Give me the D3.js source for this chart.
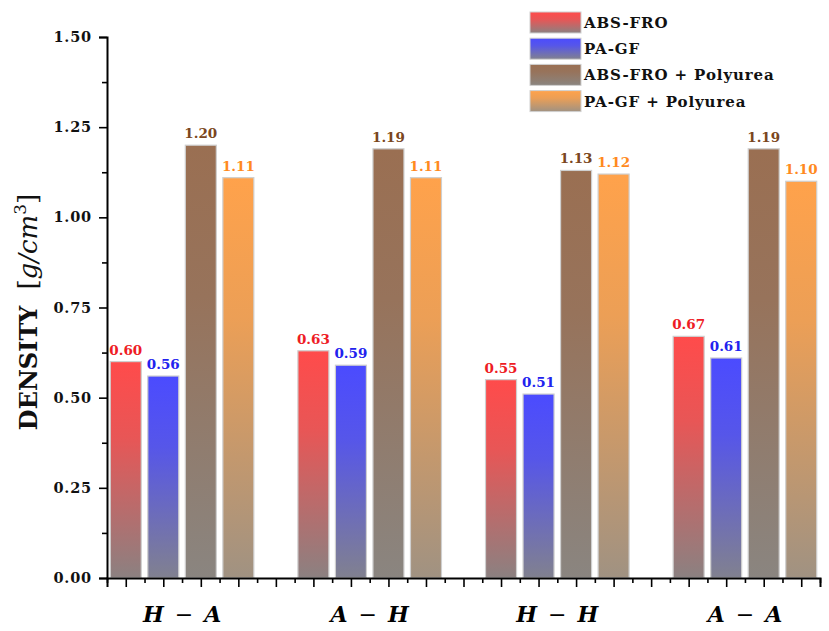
<!DOCTYPE html>
<html>
<head>
<meta charset="utf-8">
<script src="https://cdn.jsdelivr.net/npm/d3@7"></script>
<style>
  body { margin: 0; background: #fff; }
  text { font-family: "DejaVu Serif", "Liberation Serif", serif; }
</style>
</head>
<body>
<div id="chart"></div>
<script>
var categories = [['H', 'A'], ['A', 'H'], ['H', 'H'], ['A', 'A']];
var seriesNames = ['ABS-FRO', 'PA-GF', 'ABS-FRO + Polyurea', 'PA-GF + Polyurea'];
var absFro = [0.60, 0.63, 0.55, 0.67];
var paGf = [0.56, 0.59, 0.51, 0.61];
var absFroPoly = [1.20, 1.19, 1.13, 1.19];
var paGfPoly = [1.11, 1.11, 1.12, 1.10];
var yTicks = [0, 0.25, 0.5, 0.75, 1.0, 1.25, 1.5];

var series = [absFro, paGf, absFroPoly, paGfPoly];
var topColors = ['#ff4b4b', '#4b4bff', '#9a6f52', '#ffa24b'];
var bottomColors = ['#8b8181', '#81818f', '#8a8580', '#a09282'];
var labelColors = ['#ee1c25', '#2222ee', '#7a4620', '#ff8a1e'];

var w = 829, h = 631;
var svg = d3.select('#chart').append('svg')
	.attr('width', w)
	.attr('height', h);

var defs = svg.append('defs');
topColors.forEach(function (c, i) {
	var g = defs.append('linearGradient')
		.attr('id', 'grad' + i)
		.attr('x1', 0).attr('y1', 0).attr('x2', 0).attr('y2', 1);
	g.append('stop').attr('offset', '0%').attr('stop-color', c);
	g.append('stop').attr('offset', '35%').attr('stop-color', d3.interpolateRgb(c, bottomColors[i])(0.2));
	g.append('stop').attr('offset', '100%').attr('stop-color', bottomColors[i]);
});

var x0 = 107, x1 = 820, yTop = 37, yBot = 578;
var xScale = d3.scaleLinear().domain([-0.5, 18.5]).range([x0, x1]);
var yScale = d3.scaleLinear().domain([0, 1.5]).range([yBot, yTop]);
var barW = 31;

// bars
var bars = [];
categories.forEach(function (c, gi) {
	series.forEach(function (s, si) {
		bars.push({ slot: gi * 5 + si, v: s[gi], si: si });
	});
});

svg.selectAll('rect.bar')
	.data(bars)
	.enter()
	.append('rect')
	.attr('class', 'bar')
	.attr('x', function (d) { return xScale(d.slot) - barW / 2; })
	.attr('y', function (d) { return yScale(d.v); })
	.attr('width', barW)
	.attr('height', function (d) { return yScale(0) - yScale(d.v); })
	.attr('fill', function (d) { return 'url(#grad' + d.si + ')'; })
	.attr('stroke', '#cfcfcf')
	.attr('stroke-width', 1.2);

svg.selectAll('text.val')
	.data(bars)
	.enter()
	.append('text')
	.attr('class', 'val')
	.attr('x', function (d) { return xScale(d.slot); })
	.attr('y', function (d) { return yScale(d.v) - 7; })
	.attr('text-anchor', 'middle')
	.attr('font-size', '13.5px')
	.attr('font-weight', 'bold')
	.attr('fill', function (d) { return labelColors[d.si]; })
	.text(function (d) { return d.v.toFixed(2); });

// y axis
var yAxis = d3.axisLeft(yScale).tickValues(yTicks).tickSize(8).tickPadding(7)
	.tickFormat(d3.format('.2f'));
var yMinor = d3.axisLeft(yScale).tickValues([0.125, 0.375, 0.625, 0.875, 1.125, 1.375])
	.tickSize(5).tickFormat('');
var gy = svg.append('g').attr('transform', 'translate(' + x0 + ',0)').call(yAxis);
svg.append('g').attr('transform', 'translate(' + x0 + ',0)').call(yMinor)
	.select('.domain').remove();
gy.selectAll('text').attr('font-size', '14.5px').attr('font-weight', 'bold')
	.attr('font-family', '"DejaVu Serif", serif').attr('letter-spacing', '0.8px')
	.attr('fill', '#111');

// x axis
var majors = d3.range(0, 19);
var minors = d3.range(-0.5, 19, 1);
var xAxis = d3.axisBottom(xScale).tickValues(majors).tickSize(9).tickFormat('');
var xMinor = d3.axisBottom(xScale).tickValues(minors).tickSize(5).tickFormat('');
svg.append('g').attr('transform', 'translate(0,' + yBot + ')').call(xAxis);
svg.append('g').attr('transform', 'translate(0,' + yBot + ')').call(xMinor)
	.select('.domain').remove();

svg.selectAll('.domain').attr('stroke', '#000').attr('stroke-width', 2);
svg.selectAll('.tick line').attr('stroke', '#000').attr('stroke-width', 1.6);

// category labels
var cat = svg.selectAll('text.cat')
	.data(categories)
	.enter()
	.append('text')
	.attr('class', 'cat')
	.attr('x', function (d, i) { return xScale(i * 5 + 1.5); })
	.attr('y', 622)
	.attr('text-anchor', 'middle')
	.attr('font-size', '22px')
	.attr('font-weight', 'bold');
cat.append('tspan').attr('font-style', 'italic').text(function (d) { return d[0]; });
cat.append('tspan').attr('font-weight', 'normal').text('\u2002\u2212\u2002');
cat.append('tspan').attr('font-style', 'italic').text(function (d) { return d[1]; });

// y title
var yt = svg.append('text')
	.attr('transform', 'translate(37,312) rotate(-90)')
	.attr('text-anchor', 'middle')
	.attr('font-size', '24px')
	.attr('fill', '#111');
yt.append('tspan').attr('font-weight', 'bold').text('DENSITY');
yt.append('tspan').attr('dx', 16).attr('font-size', '26px').text('[');
yt.append('tspan').attr('font-size', '26px').attr('font-style', 'italic').text('g/cm');
yt.append('tspan').attr('font-size', '17px').attr('dy', -11).text('3');
yt.append('tspan').attr('font-size', '26px').attr('dy', 11).text(']');

// legend
var legend = svg.selectAll('g.leg')
	.data(seriesNames)
	.enter()
	.append('g')
	.attr('class', 'leg')
	.attr('transform', function (d, i) { return 'translate(530,' + (12 + i * 26.2) + ')'; });
legend.append('rect')
	.attr('width', 51)
	.attr('height', 21)
	.attr('fill', function (d, i) { return 'url(#grad' + i + ')'; })
	.attr('stroke', '#d0d0d0')
	.attr('stroke-width', 1);
legend.append('text')
	.attr('x', 54)
	.attr('y', 16)
	.attr('font-size', '15px')
	.attr('font-weight', 'bold')
	.attr('letter-spacing', '0.9px')
	.attr('fill', '#111')
	.text(function (d) { return d; });
</script>
</body>
</html>
